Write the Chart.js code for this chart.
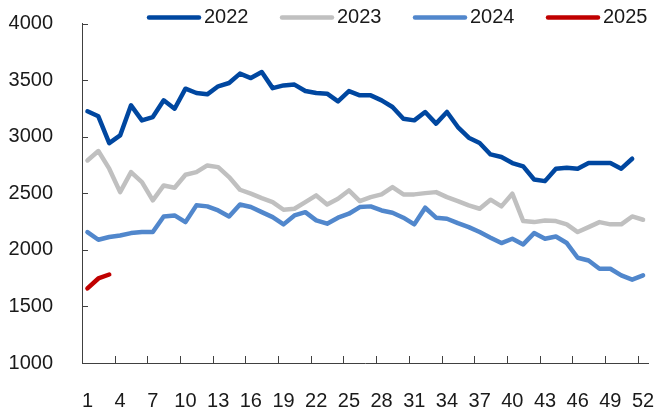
<!DOCTYPE html>
<html>
<head>
<meta charset="utf-8">
<script src="https://cdn.jsdelivr.net/npm/chart.js@4.4.1/dist/chart.umd.min.js"></script>
<style>
html,body{margin:0;padding:0;background:#fff;}
#c{display:block;}
</style>
</head>
<body>
<canvas id="c" width="669" height="408"></canvas>
<script>
const weeks = ['1','2','3','4','5','6','7','8','9','10','11','12','13','14','15','16','17','18','19','20','21','22','23','24','25','26','27','28','29','30','31','32','33','34','35','36','37','38','39','40','41','42','43','44','45','46','47','48','49','50','51','52'];
const seriesNames = ['2022','2023','2024','2025'];
const y2022 = [3224,3180,2943,3011,3277,3144,3173,3321,3247,3424,3386,3374,3445,3474,3557,3518,3571,3429,3453,3460,3403,3386,3380,3312,3403,3365,3365,3321,3262,3159,3144,3218,3115,3218,3085,2991,2944,2843,2820,2767,2737,2622,2607,2717,2726,2717,2767,2767,2767,2717,2805,null];
const y2023 = [2790,2873,2717,2510,2687,2599,2437,2569,2549,2664,2687,2746,2731,2643,2531,2496,2457,2422,2354,2363,2422,2481,2401,2452,2525,2431,2466,2490,2554,2490,2490,2501,2510,2466,2431,2393,2363,2443,2384,2496,2254,2245,2260,2254,2225,2157,2201,2245,2225,2225,2295,2266];
const y2024 = [2157,2089,2113,2127,2148,2157,2157,2295,2304,2245,2393,2384,2348,2295,2401,2378,2333,2289,2225,2304,2333,2260,2231,2284,2319,2378,2384,2348,2328,2284,2225,2372,2284,2275,2236,2201,2157,2107,2060,2098,2048,2148,2098,2118,2060,1930,1906,1833,1833,1774,1736,1774];
const y2025 = [1659,1747,1782];
const yTicks = [1000,1500,2000,2500,3000,3500,4000];

const colors = ['#0047A0','#C0C0C0','#5187CC','#C00000'];
const FONT = {family:'Liberation Sans', size:20};
const TEXT = '#1a1a1a';
const AXIS = '#404040';

const innerTicks = {
  id:'innerTicks',
  afterDraw(chart){
    const ctx = chart.ctx, x = chart.scales.x, y = chart.scales.y;
    const a = chart.chartArea;
    ctx.save();
    ctx.strokeStyle = AXIS; ctx.lineWidth = 1;
    ctx.beginPath();
    yTicks.forEach(v => {
      if (v === yTicks[0]) return;
      const py = Math.round(y.getPixelForValue(v)) + 0.5;
      ctx.moveTo(a.left, py); ctx.lineTo(a.left + 6, py);
    });
    for (let i = 3; i < weeks.length; i += 3) {
      const px = Math.round((x.getPixelForValue(i-1) + x.getPixelForValue(i)) / 2) + 0.5;
      ctx.moveTo(px, a.bottom); ctx.lineTo(px, a.bottom - 7);
    }
    ctx.stroke();
    // legend
    ctx.font = FONT.size + 'px "' + FONT.family + '"';
    ctx.textBaseline = 'middle';
    ctx.textAlign = 'left';
    chart.data.datasets.forEach((ds, i) => {
      const x0 = 147 + i * 133, yc = 17.5;
      ctx.strokeStyle = ds.borderColor; ctx.lineWidth = 4.5; ctx.lineCap = 'round';
      ctx.beginPath(); ctx.moveTo(x0 + 2, yc); ctx.lineTo(x0 + 52, yc); ctx.stroke();
      ctx.fillStyle = TEXT;
      ctx.fillText(ds.label, x0 + 57, yc);
    });
    ctx.restore();
  }
};

const mk = (label, data, color) => ({
  label, data, borderColor: color, backgroundColor: color,
  borderWidth: 4.5, pointRadius: 0, tension: 0, fill: false,
  borderCapStyle: 'round', borderJoinStyle: 'round', spanGaps: false
});

new Chart(document.getElementById('c'), {
  type: 'line',
  data: {
    labels: weeks,
    datasets: [
      mk(seriesNames[0], y2022, colors[0]),
      mk(seriesNames[1], y2023, colors[1]),
      mk(seriesNames[2], y2024, colors[2]),
      mk(seriesNames[3], y2025, colors[3])
    ]
  },
  options: {
    responsive: false, animation: false, devicePixelRatio: 1,
    layout: { padding: { top: 23.5, right: 20.5, left: 0, bottom: 0 } },
    plugins: { legend: { display: false }, tooltip: { enabled: false } },
    scales: {
      x: {
        type: 'category', offset: true,
        grid: { display: false },
        border: { display: true, color: AXIS, width: 1 },
        ticks: {
          autoSkip: false, maxRotation: 0, minRotation: 0, padding: 18,
          color: TEXT, font: FONT,
          callback: function(v, i){ return i % 3 === 0 ? this.getLabelForValue(v) : ''; }
        },
        afterFit(s){ s.height = 45; s.paddingLeft = 0; s.paddingRight = 0; }
      },
      y: {
        min: 1000, max: 4000,
        grid: { display: false },
        border: { display: true, color: AXIS, width: 1 },
        ticks: { stepSize: 500, padding: 21, color: TEXT, font: FONT,
          callback: (v) => String(v) },
        afterFit(s){ s.width = 82; s.paddingTop = 0; s.paddingBottom = 0; }
      }
    }
  },
  plugins: [innerTicks]
});
</script>
</body>
</html>
